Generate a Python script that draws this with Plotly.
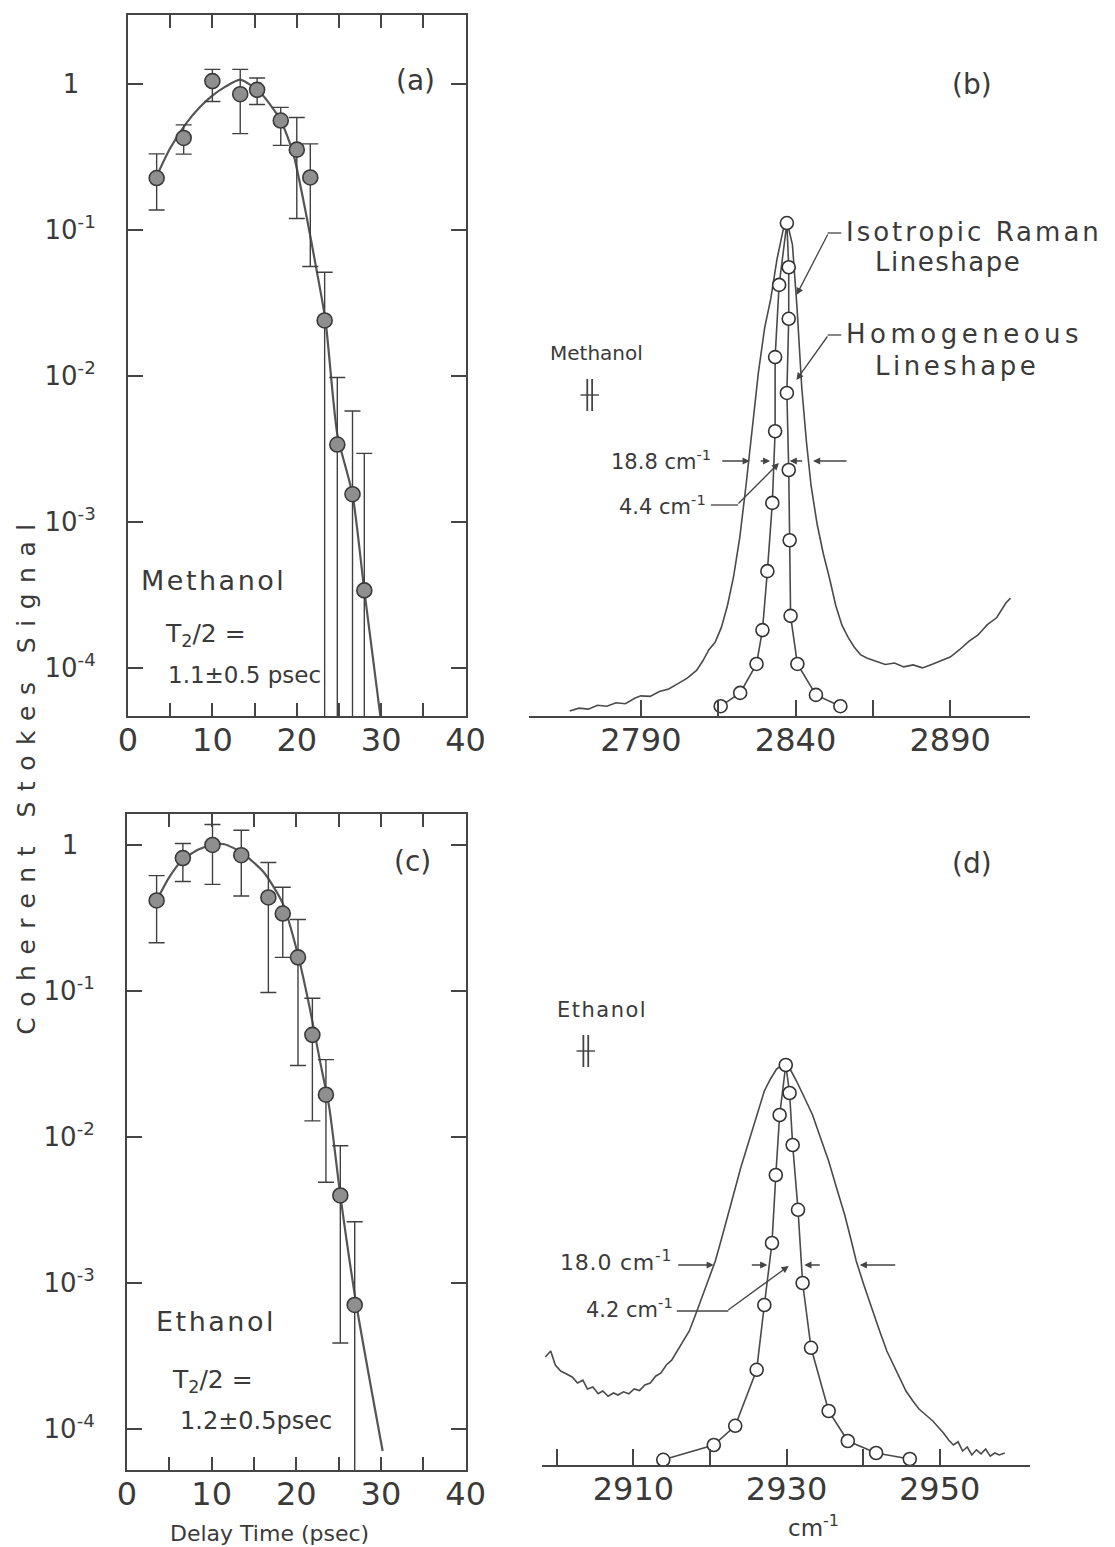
import plotly.graph_objects as go

W, H = 1115, 1547
FONT = "DejaVu Sans"
INK = "#3a3a3a"
LINE = "#454545"

# ---------------- Panel (a): Methanol, delay-time data ----------------
a_t = [3.4, 6.6, 10.0, 13.3, 15.3, 18.1, 20.0, 21.6, 23.3, 24.8, 26.6, 28.0]
a_sig = [0.227, 0.427, 1.047, 0.851, 0.912, 0.562, 0.355, 0.229, 0.024, 0.00339, 0.00155, 0.00034]
a_hi = [0.332, 0.525, 1.26, 1.26, 1.10, 0.692, 0.589, 0.389, 0.0513, 0.00977, 0.00575, 0.00295]
a_lo = [0.137, 0.331, 0.759, 0.457, 0.724, 0.380, 0.120, 0.0562, 0.0, 0.0, 0.0, 0.0]
a_fit_t = [3.4, 5.0, 6.9, 8.5, 10.0, 11.5, 13.3, 15.7, 18.1, 19.6, 21.1, 22.3, 23.4, 24.8, 26.6, 28.0, 29.9]
a_fit_log = [-0.63, -0.44, -0.27, -0.16, -0.08, -0.02, 0.03, -0.06, -0.25, -0.48, -0.89, -1.26, -1.62, -2.40, -2.81, -3.47, -4.33]

# ---------------- Panel (c): Ethanol, delay-time data ----------------
c_t = [3.5, 6.6, 10.1, 13.5, 16.7, 18.4, 20.2, 21.9, 23.5, 25.2, 26.9]
c_sig = [0.417, 0.813, 1.0, 0.851, 0.437, 0.339, 0.170, 0.0501, 0.0195, 0.00398, 0.000708]
c_hi = [0.617, 1.023, 1.38, 1.26, 0.759, 0.513, 0.309, 0.0891, 0.0339, 0.00871, 0.00263]
c_lo = [0.214, 0.562, 0.537, 0.447, 0.0977, 0.170, 0.0309, 0.0129, 0.0049, 0.000389, 0.0]
c_fit_t = [3.5, 5.0, 6.6, 8.5, 10.0, 11.5, 13.5, 16.2, 18.4, 20.1, 21.6, 22.8, 23.9, 25.2, 27.1, 30.2]
c_fit_log = [-0.38, -0.22, -0.10, -0.03, 0.0, 0.005, -0.05, -0.19, -0.40, -0.73, -1.12, -1.48, -1.80, -2.40, -3.15, -4.15]

# ---------------- Panel (b): Methanol spectra ----------------
b_iso_w = [2767, 2770, 2773, 2776, 2779, 2782, 2785, 2788, 2790, 2793, 2796, 2799, 2802, 2805, 2808,
           2810, 2812, 2814, 2816, 2818, 2820, 2822, 2824, 2826, 2828, 2830, 2832, 2834, 2836, 2837.5,
           2839, 2840.5, 2842, 2843.5, 2845, 2847, 2849, 2851, 2853, 2855, 2857, 2859, 2861, 2863,
           2866, 2869, 2872, 2875, 2878, 2881, 2884, 2887, 2890, 2893, 2896, 2899, 2902, 2905, 2908, 2909.5]
b_iso_I = [0.010, 0.016, 0.014, 0.022, 0.020, 0.027, 0.025, 0.036, 0.041, 0.040, 0.050, 0.055, 0.066, 0.077, 0.093,
           0.112, 0.135, 0.150, 0.180, 0.225, 0.285, 0.365, 0.470, 0.590, 0.700, 0.790, 0.850, 0.930, 0.990, 1.000,
           0.960, 0.830, 0.670, 0.560, 0.470, 0.390, 0.330, 0.280, 0.225, 0.185, 0.160, 0.140, 0.125, 0.118,
           0.112, 0.105, 0.108, 0.100, 0.104, 0.098, 0.105, 0.112, 0.120, 0.135, 0.152, 0.165, 0.186, 0.200, 0.230, 0.240]
b_hom_w = [2815.8, 2822.1, 2827.4, 2829.3, 2830.9, 2832.5, 2833.4, 2833.4, 2834.7, 2837.2,
           2837.8, 2837.8, 2837.2, 2837.8, 2838.1, 2838.4, 2840.6, 2846.6, 2854.5]
b_hom_I = [0.020, 0.047, 0.106, 0.175, 0.295, 0.434, 0.580, 0.731, 0.878, 1.004,
           0.914, 0.809, 0.658, 0.501, 0.358, 0.204, 0.106, 0.043, 0.020]

# ---------------- Panel (d): Ethanol spectra ----------------
d_iso_w = [2898.5, 2899.2, 2899.8, 2900.5, 2901.2, 2902.0, 2902.7, 2903.4, 2904.0, 2904.7, 2905.4, 2906.0,
           2906.7, 2907.4, 2908.0, 2908.7, 2909.4, 2910.1, 2910.8, 2911.5, 2912.2, 2912.9, 2913.6, 2914.3,
           2915.0, 2915.7, 2916.5, 2917.3, 2918.1, 2918.9, 2919.8, 2920.7, 2921.5, 2922.4, 2923.2, 2924.0,
           2924.9, 2925.8, 2926.5, 2927.1, 2927.9, 2928.7, 2929.4, 2929.9, 2930.6, 2931.3, 2932.3, 2933.4,
           2934.4, 2935.5, 2936.5, 2937.6, 2938.4, 2939.1, 2940.1, 2941.1, 2942.1, 2943.1, 2944.3, 2945.6,
           2946.5, 2947.3, 2948.2, 2949.1, 2949.8, 2950.5, 2951.2, 2951.8, 2952.4, 2953.0, 2953.6, 2954.2,
           2954.8, 2955.4, 2956.0, 2956.6, 2957.2, 2957.8, 2958.5]
d_iso_I = [0.270, 0.285, 0.250, 0.235, 0.228, 0.220, 0.205, 0.212, 0.190, 0.195, 0.178, 0.185,
           0.172, 0.180, 0.175, 0.183, 0.178, 0.190, 0.186, 0.200, 0.205, 0.222, 0.230, 0.250,
           0.262, 0.285, 0.310, 0.335, 0.375, 0.418, 0.465, 0.510, 0.565, 0.625, 0.685, 0.742,
           0.797, 0.850, 0.895, 0.935, 0.965, 0.990, 1.000, 1.005, 0.985, 0.960, 0.920, 0.875,
           0.820, 0.760, 0.695, 0.625, 0.565, 0.510, 0.450, 0.393, 0.338, 0.285, 0.235, 0.185,
           0.160, 0.140, 0.125, 0.110, 0.095, 0.080, 0.062, 0.050, 0.058, 0.035, 0.045, 0.025,
           0.038, 0.028, 0.040, 0.022, 0.030, 0.025, 0.030]
d_hom_w = [2913.9, 2920.5, 2923.3, 2926.1, 2927.1, 2928.1, 2928.6, 2929.1, 2929.9,
           2930.4, 2930.8, 2931.5, 2932.1, 2933.2, 2935.5, 2938.0, 2941.7, 2946.1]
d_hom_I = [0.013, 0.050, 0.098, 0.238, 0.400, 0.555, 0.725, 0.875, 1.000,
           0.930, 0.800, 0.638, 0.455, 0.293, 0.135, 0.060, 0.030, 0.015]

# tick labels
delay_ticks = [0, 5, 10, 15, 20, 25, 30, 35, 40]
delay_labels = ["0", "", "10", "", "20", "", "30", "", "40"]
log_ticks = [1e-4, 1e-3, 1e-2, 1e-1, 1]
log_labels = ["10<sup>-4</sup>", "10<sup>-3</sup>", "10<sup>-2</sup>", "10<sup>-1</sup>", "1\u2007"]
b_ticks = [2790, 2815, 2840, 2865, 2890]
b_labels = ["2790", "", "2840", "", "2890"]
d_ticks = [2900, 2910, 2920, 2930, 2940, 2950]
d_labels = ["", "2910", "", "2930", "", "2950"]

FLOOR = 1e-8


def fx(x):
    return x / W


def fy(y):
    return 1 - y / H


fig = go.Figure()


def delay_traces(t, sig, hi, lo, fit_t, fit_log, xa, ya):
    fig.add_trace(go.Scatter(
        x=fit_t, y=[10 ** v for v in fit_log], mode="lines",
        line=dict(color="#555555", width=2.2, shape="spline", smoothing=0.6),
        xaxis=xa, yaxis=ya, showlegend=False, hoverinfo="skip"))
    plus = [h - s for h, s in zip(hi, sig)]
    minus = [s - max(l, FLOOR) for l, s in zip(lo, sig)]
    fig.add_trace(go.Scatter(
        x=t, y=sig, mode="markers",
        marker=dict(size=15, color="#8f8f8f", line=dict(color="#3a3a3a", width=1.6)),
        error_y=dict(type="data", symmetric=False, array=plus, arrayminus=minus,
                     color="#404040", thickness=1.4, width=8),
        xaxis=xa, yaxis=ya, showlegend=False))


delay_traces(a_t, a_sig, a_hi, a_lo, a_fit_t, a_fit_log, "x", "y")
delay_traces(c_t, c_sig, c_hi, c_lo, c_fit_t, c_fit_log, "x2", "y2")


def spec_traces(iw, ii, hw, hi_, xa, ya):
    fig.add_trace(go.Scatter(
        x=iw, y=ii, mode="lines", line=dict(color="#4a4a4a", width=1.6),
        xaxis=xa, yaxis=ya, showlegend=False, hoverinfo="skip"))
    fig.add_trace(go.Scatter(
        x=hw, y=hi_, mode="lines+markers",
        line=dict(color="#4a4a4a", width=1.6),
        marker=dict(size=13, color="white", line=dict(color="#333333", width=1.6)),
        xaxis=xa, yaxis=ya, showlegend=False, cliponaxis=False))


spec_traces(b_iso_w, b_iso_I, b_hom_w, b_hom_I, "x3", "y3")
spec_traces(d_iso_w, d_iso_I, d_hom_w, d_hom_I, "x4", "y4")

xtickfont = dict(family=FONT, size=32, color=INK)
ytickfont = dict(family=FONT, size=26, color=INK)
box_common = dict(showline=True, linewidth=2, linecolor=LINE, mirror="ticks",
                  ticks="inside", tickcolor=LINE, tickwidth=1.6, showgrid=False,
                  zeroline=False)

fig.update_layout(
    width=W, height=H,
    margin=dict(l=0, r=0, t=0, b=0),
    paper_bgcolor="white", plot_bgcolor="rgba(0,0,0,0)",
    font=dict(family=FONT, color=INK),
    xaxis=dict(domain=[fx(113), fx(460)], range=[0, 40], anchor="y",
               tickmode="array", tickvals=delay_ticks, ticktext=delay_labels,
               ticklen=13, ticklabelstandoff=-5, tickfont=xtickfont, **box_common),
    yaxis=dict(domain=[fy(708), fy(7)], type="log", range=[-4.329, 0.4726], anchor="x",
               tickmode="array", tickvals=log_ticks, ticktext=log_labels,
               ticklen=15, ticklabelstandoff=25, tickfont=ytickfont, **box_common),
    xaxis2=dict(domain=[fx(112), fx(460)], range=[0, 40], anchor="y2",
                tickmode="array", tickvals=delay_ticks, ticktext=delay_labels,
                ticklen=13, ticklabelstandoff=-5, tickfont=xtickfont, **box_common),
    yaxis2=dict(domain=[fy(1462), fy(806)], type="log", range=[-4.28, 0.212], anchor="x2",
                tickmode="array", tickvals=log_ticks, ticktext=log_labels,
                ticklen=15, ticklabelstandoff=25, tickfont=ytickfont, **box_common),
    xaxis3=dict(domain=[fx(525), fx(1040)], range=[2753.8, 2915.8], anchor="y3",
                tickmode="array", tickvals=b_ticks, ticktext=b_labels,
                showline=True, linewidth=2, linecolor=LINE, ticks="inside", ticklen=16,
                tickcolor=LINE, tickwidth=1.6, showgrid=False, zeroline=False,
                tickfont=xtickfont, ticklabelstandoff=-5),
    yaxis3=dict(domain=[fy(708), fy(150)], range=[0, 1.1365], anchor="x3", visible=False),
    xaxis4=dict(domain=[fx(538), fx(1040)], range=[2898.0, 2961.8], anchor="y4",
                tickmode="array", tickvals=d_ticks, ticktext=d_labels,
                showline=True, linewidth=2, linecolor=LINE, ticks="inside", ticklen=16,
                tickcolor=LINE, tickwidth=1.6, showgrid=False, zeroline=False,
                tickfont=xtickfont, ticklabelstandoff=-5),
    yaxis4=dict(domain=[fy(1457), fy(1000)], range=[0, 1.1425], anchor="x4", visible=False),
)

ann = []


def text(x, y, s, size=26, xanchor="left", angle=0, ls=0):
    if ls:
        s = '<span style="letter-spacing:%gpx">%s</span>' % (ls, s)
    ann.append(dict(x=fx(x), y=fy(y), xref="paper", yref="paper", text=s, showarrow=False,
                    xanchor=xanchor, yanchor="middle", textangle=angle, borderpad=0,
                    font=dict(family=FONT, size=size, color=INK)))


def arrow(hx, hy, tx, ty):
    ann.append(dict(x=fx(hx), y=fy(hy), xref="paper", yref="paper", text="",
                    showarrow=True, ax=tx - hx, ay=ty - hy, axref="pixel", ayref="pixel",
                    arrowhead=2, arrowsize=1.1, arrowwidth=1.3, arrowcolor="#444444"))


# Panel letters
text(408, 72, "(a)", 28, "center")
text(405, 853, "(c)", 28, "center")
text(980, 76, "(b)", 28, "center")
text(980, 855, "(d)", 28, "center")

# Panel (a) labels
text(125, 572, "Methanol", 27, ls=2.5)
text(150, 627, "T<sub>2</sub>/2 =", 25)
text(153, 667, "1.1±0.5 psec", 23)
# Panel (c) labels
text(141, 1313, "Ethanol", 27, ls=2.5)
text(157, 1373, "T<sub>2</sub>/2 =", 25)
text(165, 1413, "1.2±0.5psec", 24)

# Panel (b) labels
text(546, 345, "Methanol", 20)
text(850, 224, "Isotropic Raman", 26, ls=3)
text(880, 254, "Lineshape", 26, ls=1.5)
text(850, 326, "Homogeneous", 26, ls=4.5)
text(880, 358, "Lineshape", 26, ls=3.5)
text(713, 452, "18.8 cm<sup>-1</sup>", 21, "right")
text(708, 497, "4.4 cm<sup>-1</sup>", 21, "right")

# Panel (d) labels
text(553, 1002, "Ethanol", 21, ls=1.5)
text(673, 1253, "18.0 cm<sup>-1</sup>", 22, "right", ls=0.8)
text(674, 1300, "4.2 cm<sup>-1</sup>", 21, "right")

# Axis titles
text(258, 1525, "Delay Time (psec)", 22, "center")
text(818, 1518, "cm<sup>-1</sup>", 23, "center")
text(-8, 766, "Coherent Stokes Signal", 25, "left", -90, ls=10.5)

# FWHM arrows (b)
arrow(752, 453, 723, 453)
arrow(773, 453, 762, 453)
arrow(793, 453, 807, 453)
arrow(817, 453, 852, 453)
arrow(782, 455, 740, 497)
# FWHM arrows (d)
arrow(715, 1257, 678, 1257)
arrow(770, 1257, 753, 1257)
arrow(808, 1257, 825, 1257)
arrow(865, 1257, 902, 1257)
arrow(792, 1258, 730, 1303)
# leaders for lineshape labels
arrow(800, 287, 832, 225)
arrow(800, 372, 832, 327)

fig.update_layout(annotations=ann)

shapes = []


def seg(x0, y0, x1, y1, w=1.3):
    shapes.append(dict(type="line", xref="paper", yref="paper",
                       x0=fx(x0), y0=fy(y0), x1=fx(x1), y1=fy(y1),
                       line=dict(color="#444444", width=w)))


# leader horizontal pieces
seg(712, 497, 740, 497)
seg(677, 1303, 730, 1303)
seg(832, 225, 846, 225)
seg(832, 327, 846, 327)

# polarization symbols (parallel)
for cx, cy in [(587, 387), (583, 1043)]:
    seg(cx - 2, cy - 16, cx - 2, cy + 16, 1.8)
    seg(cx + 3, cy - 16, cx + 3, cy + 16, 1.8)
    seg(cx - 9, cy, cx + 10, cy, 1.4)

fig.update_layout(shapes=shapes)

fig.write_html("out.html")
